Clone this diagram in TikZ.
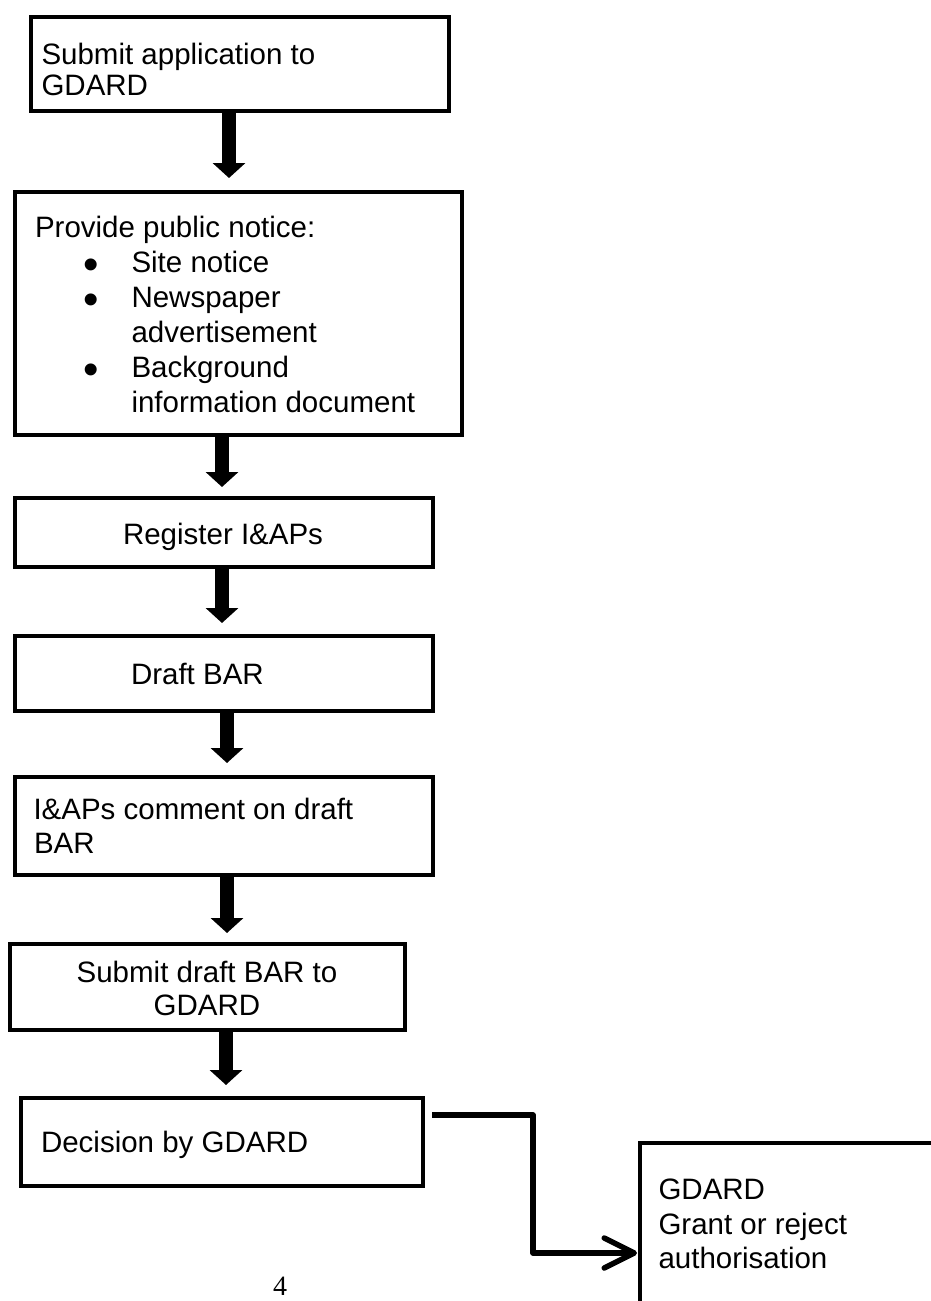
\documentclass[tikz,border=0pt]{standalone}
\usepackage{fontspec}
\setmainfont{Liberation Sans}
\newfontfamily\pagenumfont{Liberation Serif}
\usetikzlibrary{arrows.meta}
\begin{document}
\begin{tikzpicture}[x=1pt,y=-1pt,
  box/.style={draw=black, fill=white, line width=4pt, rectangle, inner sep=0pt, outer sep=0pt, anchor=north west},
  txt/.style={font=\fontsize{29.5}{35}\selectfont, inner sep=0pt, outer sep=0pt, anchor=base west},
  ctxt/.style={txt, anchor=base},
  bullet/.style={font=\fontsize{44}{44}\selectfont, inner sep=0pt, outer sep=0pt, anchor=base, text height=20pt, text depth=0pt},
  bigarrow/.style={line width=14pt, -{Triangle[width=32pt,length=15pt]}},
  elbow/.style={line width=5.5pt, line join=round, -{Straight Barb[length=30pt,width=30pt,round]}}]
\useasboundingbox (0,0) rectangle (930,1301);

% boxes
\node[box, minimum width=418pt, minimum height=94pt]  (b1) at (31,17) {};
\node[box, minimum width=447pt, minimum height=243pt] (b2) at (15,192) {};
\node[box, minimum width=418pt, minimum height=69pt]  (b3) at (15,498) {};
\node[box, minimum width=418pt, minimum height=75pt]  (b4) at (15,636) {};
\node[box, minimum width=418pt, minimum height=98pt]  (b5) at (15,777) {};
\node[box, minimum width=395pt, minimum height=86pt]  (b6) at (10,944) {};
\node[box, minimum width=402pt, minimum height=88pt]  (b7) at (21,1098) {};
\node[box, minimum width=400pt, minimum height=300pt] (b8) at (640,1143) {};

% texts
\node[txt] (t1a) at (41.5,64) {Submit application to};
\node[txt] (t1b) at (41.5,95) {GDARD};

\node[txt] (t2a) at (35,237) {Provide public notice:};
\node[bullet] (u1) at (91,279) {•};
\node[txt] (t2b) at (131.5,272) {Site notice};
\node[bullet] (u2) at (91,314) {•};
\node[txt] (t2c) at (131.5,307) {Newspaper};
\node[txt] (t2d) at (131.5,342) {advertisement};
\node[bullet] (u3) at (91,384) {•};
\node[txt] (t2e) at (131.5,377) {Background};
\node[txt] (t2f) at (131.5,412) {information document};

\node[txt] (t3) at (123,544) {Register I\&APs};
\node[txt] (t4) at (131,684) {Draft BAR};

\node[txt] (t5a) at (33.5,819) {I\&APs comment on draft};
\node[txt] (t5b) at (34,853) {BAR};

\node[ctxt] (t6a) at (207,982) {Submit draft BAR to};
\node[ctxt] (t6b) at (207,1015) {GDARD};

\node[txt] (t7) at (41,1152) {Decision by GDARD};

\node[txt] (t8a) at (658.5,1199) {GDARD};
\node[txt] (t8b) at (658.5,1234) {Grant or reject};
\node[txt] (t8c) at (658.5,1268) {authorisation};

\node[inner sep=0pt, anchor=base, font=\pagenumfont\fontsize{28}{30}\selectfont] (pg) at (280,1295) {4};

% arrow x positions
\coordinate (x1) at (229,0);
\coordinate (x2) at (222,0);
\coordinate (x3) at (222,0);
\coordinate (x4) at (227,0);
\coordinate (x5) at (227,0);
\coordinate (x6) at (226,0);

\draw[bigarrow, shorten >=14pt] (b1.south -| x1) -- (b2.north -| x1);
\draw[bigarrow, shorten >=11pt] (b2.south -| x2) -- (b3.north -| x2);
\draw[bigarrow, shorten >=13pt] (b3.south -| x3) -- (b4.north -| x3);
\draw[bigarrow, shorten >=14pt] (b4.south -| x4) -- (b5.north -| x4);
\draw[bigarrow, shorten >=11pt] (b5.south -| x5) -- (b6.north -| x5);
\draw[bigarrow, shorten >=13pt] (b6.south -| x6) -- (b7.north -| x6);

% elbow connector
\coordinate (c1) at (432,1115);
\coordinate (c2) at (533,1115);
\coordinate (c3) at (533,1253);
\draw[elbow, shorten >=3pt] (c1) -- (c2) -- (c3) -- (c3 -| b8.west);
\end{tikzpicture}
\end{document}
